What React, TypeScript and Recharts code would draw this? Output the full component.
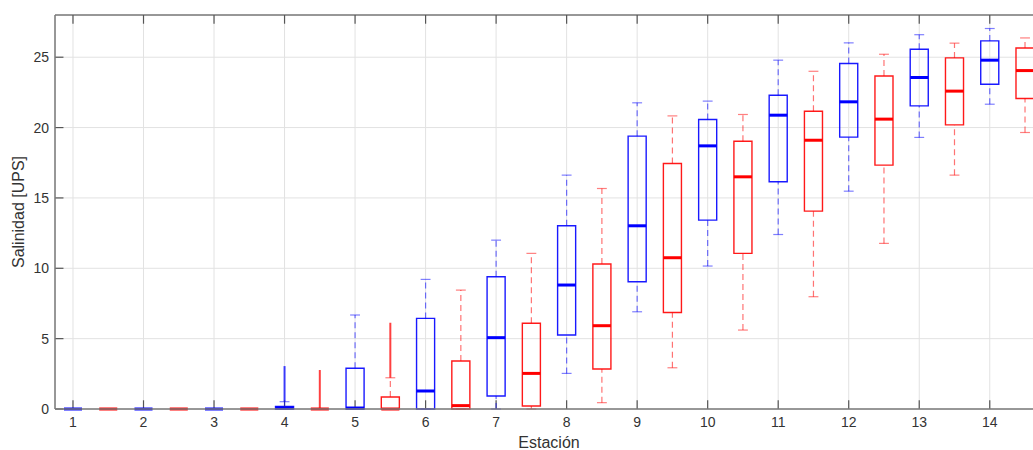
import React from "react";
import {
  ComposedChart,
  XAxis,
  YAxis,
  CartesianGrid,
  Scatter,
  ReferenceArea,
  ReferenceLine,
} from "recharts";

// Estaciones (ticks del eje X)
const stations = [1, 2, 3, 4, 5, 6, 7, 8, 9, 10, 11, 12, 13, 14];
const yTicks = [0, 5, 10, 15, 20, 25];

// Serie azul (centrada en cada estación)
const blueQ1 = [0, 0, 0, 0, 0, 0, 0.92, 5.26, 9.04, 13.42, 16.15, 19.32, 21.54, 23.08];
const blueMedian = [0, 0, 0, 0.08, 0.07, 1.28, 5.07, 8.81, 13.02, 18.7, 20.88, 21.83, 23.56, 24.79];
const blueQ3 = [0, 0, 0, 0.18, 2.9, 6.44, 9.4, 13.02, 19.39, 20.57, 22.3, 24.55, 25.57, 26.16];
const blueLow = [0, 0, 0, 0, 0, 0, 0, 2.53, 6.91, 10.16, 12.4, 15.48, 19.3, 21.66];
const blueHigh = [0, 0, 0, 0.52, 6.68, 9.21, 12.0, 16.62, 21.76, 21.88, 24.79, 26.02, 26.6, 27.04];
// rango de valores atípicos (muy densos, se ven como una línea)
const blueOutLo = [null, null, null, 0.52, null, null, null, null, null, null, null, null, null, null];
const blueOutHi = [null, null, null, 3.05, null, null, null, null, null, null, null, null, null, null];

// Serie roja (desplazada media estación)
const redQ1 = [0, 0, 0, 0, 0, 0, 0.21, 2.84, 6.86, 11.06, 14.06, 17.33, 20.19, 22.07];
const redMedian = [0, 0, 0, 0, 0, 0.24, 2.53, 5.92, 10.75, 16.5, 19.1, 20.6, 22.59, 24.05];
const redQ3 = [0, 0, 0, 0, 0.85, 3.41, 6.09, 10.3, 17.45, 19.03, 21.16, 23.67, 24.95, 25.66];
const redLow = [0, 0, 0, 0, 0, 0, 0, 0.45, 2.93, 5.61, 7.98, 11.77, 16.62, 19.65];
const redHigh = [0, 0, 0, 0, 2.22, 8.45, 11.06, 15.67, 20.83, 20.93, 24.0, 25.21, 26.0, 26.37];
const redOutLo = [null, null, null, 0, 2.22, null, null, null, null, null, null, null, null, null];
const redOutHi = [null, null, null, 2.77, 6.13, null, null, null, null, null, null, null, null, null];

const BLUE = "#0000ff";
const RED = "#ff0000";
const AXIS = "#7a7a7a";
const TEXT = "#333333";
const HALF_BOX = 0.128;
const HALF_CAP = 0.07;
const X_DOMAIN: [number, number] = [0.745, 14.755];
const Y_MAX = 28;

type Nullable = (number | null)[];

function boxElements(
  id: string,
  offset: number,
  color: string,
  q1: number[],
  med: number[],
  q3: number[],
  lo: number[],
  hi: number[],
  outLo: Nullable,
  outHi: Nullable
) {
  return stations.flatMap((s, i) => {
    const x = s + offset;
    const els: React.ReactNode[] = [];
    // bigotes discontinuos
    if (hi[i] > q3[i]) {
      els.push(
        <ReferenceLine key={`${id}-wh-${i}`} ifOverflow="visible"
          segment={[{ x, y: q3[i] }, { x, y: hi[i] }]}
          stroke={color} strokeOpacity={0.55} strokeWidth={1.2} strokeDasharray="6 4" />
      );
    }
    if (lo[i] < q1[i]) {
      els.push(
        <ReferenceLine key={`${id}-wl-${i}`} ifOverflow="visible"
          segment={[{ x, y: lo[i] }, { x, y: q1[i] }]}
          stroke={color} strokeOpacity={0.55} strokeWidth={1.2} strokeDasharray="6 4" />
      );
    }
    // topes
    els.push(
      <ReferenceLine key={`${id}-ch-${i}`} ifOverflow="visible"
        segment={[{ x: x - HALF_CAP, y: hi[i] }, { x: x + HALF_CAP, y: hi[i] }]}
        stroke={color} strokeOpacity={0.5} strokeWidth={1.2} />,
      <ReferenceLine key={`${id}-cl-${i}`} ifOverflow="visible"
        segment={[{ x: x - HALF_CAP, y: lo[i] }, { x: x + HALF_CAP, y: lo[i] }]}
        stroke={color} strokeOpacity={0.5} strokeWidth={1.2} />
    );
    // atípicos
    const oL = outLo[i];
    const oH = outHi[i];
    if (oL !== null && oH !== null) {
      els.push(
        <ReferenceLine key={`${id}-out-${i}`} ifOverflow="visible"
          segment={[{ x, y: oL }, { x, y: oH }]}
          stroke={color} strokeOpacity={0.75} strokeWidth={2} />
      );
    }
    // caja
    els.push(
      <ReferenceArea key={`${id}-box-${i}`} ifOverflow="visible"
        x1={x - HALF_BOX} x2={x + HALF_BOX} y1={q1[i]} y2={q3[i]}
        fill="none" fillOpacity={0} stroke={color} strokeWidth={1.4} strokeOpacity={0.9} />
    );
    // mediana
    els.push(
      <ReferenceLine key={`${id}-med-${i}`} ifOverflow="visible"
        segment={[{ x: x - HALF_BOX, y: med[i] }, { x: x + HALF_BOX, y: med[i] }]}
        stroke={color} strokeWidth={3} />
    );
    return els;
  });
}

const anchorData = stations.map((s, i) => ({ x: s, y: blueMedian[i] }));

export default function App() {
  const tickMarks = [
    ...stations.map((s) => (
      <ReferenceLine key={`tb-${s}`} ifOverflow="visible"
        segment={[{ x: s, y: 0 }, { x: s, y: 0.62 }]} stroke="#555" strokeWidth={1.2} />
    )),
    ...stations.map((s) => (
      <ReferenceLine key={`tt-${s}`} ifOverflow="visible"
        segment={[{ x: s, y: Y_MAX }, { x: s, y: Y_MAX - 0.62 }]} stroke="#555" strokeWidth={1.2} />
    )),
    ...yTicks.map((t) => (
      <ReferenceLine key={`tl-${t}`} ifOverflow="visible"
        segment={[{ x: X_DOMAIN[0], y: t }, { x: X_DOMAIN[0] + 0.12, y: t }]} stroke="#555" strokeWidth={1.2} />
    )),
  ];

  return (
    <div style={{ position: "fixed", left: 0, top: 0, width: 1033, height: 450, overflow: "hidden", background: "#fff" }}>
      <div style={{ position: "absolute", left: 8, top: 8 }}>
        <ComposedChart
          width={1035}
          height={442}
          data={anchorData}
          margin={{ top: 7, right: 0, left: 0, bottom: 16 }}
          style={{ fontFamily: "Arial, 'Liberation Sans', sans-serif" }}
        >
          <CartesianGrid stroke="#e2e2e2" strokeWidth={1} />
          <XAxis
            type="number"
            dataKey="x"
            domain={X_DOMAIN}
            ticks={stations}
            interval={0}
            allowDataOverflow
            height={25}
            tickLine={false}
            tickSize={6}
            tickMargin={2}
            axisLine={{ stroke: AXIS, strokeWidth: 1.5 }}
            tick={{ fontSize: 14, fill: TEXT }}
            label={{ value: "Estación", position: "bottom", offset: 3, fontSize: 16, fill: TEXT }}
          />
          <YAxis
            type="number"
            domain={[0, Y_MAX]}
            ticks={yTicks}
            interval={0}
            allowDataOverflow
            width={47}
            tickLine={false}
            tickSize={4}
            tickMargin={2}
            axisLine={{ stroke: AXIS, strokeWidth: 1.5 }}
            tick={{ fontSize: 14, fill: TEXT }}
            label={{
              value: "Salinidad [UPS]",
              angle: -90,
              position: "insideLeft",
              offset: 10,
              fontSize: 16,
              fill: TEXT,
              style: { textAnchor: "middle" },
            }}
          />
          <ReferenceLine y={Y_MAX} ifOverflow="visible" stroke={AXIS} strokeWidth={1.5} />
          {tickMarks}
          {boxElements("b", 0, BLUE, blueQ1, blueMedian, blueQ3, blueLow, blueHigh, blueOutLo, blueOutHi)}
          {boxElements("r", 0.5, RED, redQ1, redMedian, redQ3, redLow, redHigh, redOutLo, redOutHi)}
          <Scatter data={anchorData} dataKey="y" isAnimationActive={false} shape={() => <g />} />
        </ComposedChart>
      </div>
    </div>
  );
}
